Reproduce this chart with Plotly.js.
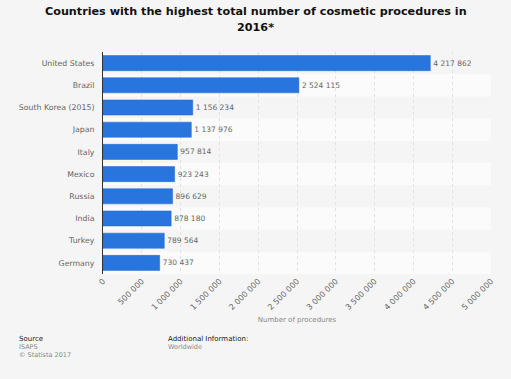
<!DOCTYPE html>
<html><head><meta charset="utf-8">
<script src="https://cdn.plot.ly/plotly-3.0.1.min.js"></script>
<style>html,body{margin:0;padding:0;background:#f5f5f5;}#chart{width:511px;height:379px;}</style>
</head><body><div id="chart"></div>
<script>
const countries = ["United States","Brazil","South Korea (2015)","Japan","Italy","Mexico","Russia","India","Turkey","Germany"];
const procedures = [4217862,2524115,1156234,1137976,957814,923243,896629,878180,789564,730437];
const tickVals = [0,500000,1000000,1500000,2000000,2500000,3000000,3500000,4000000,4500000,5000000];

const shapes = countries.map((c,i)=>({
  type:'rect', xref:'paper', yref:'y', x0:0, x1:1, y0:i-0.5, y1:i+0.5,
  fillcolor: i%2===0 ? '#f5f5f5' : '#fbfbfb', line:{width:0}, layer:'below'
}));

const trace = {
  type:'bar', orientation:'h', x:procedures, y:countries,
  marker:{color:'#2876dd', line:{color:'#1f66c9', width:0.5}},
  texttemplate:'%{x:,}', textposition:'outside', cliponaxis:false,
  textfont:{family:'DejaVu Sans, sans-serif', size:7.5, color:'#666'},
  hoverinfo:'none'
};

const pxX = x => (x-103)/388;
const pxY = y => (274-y)/222;

const footer = [
  {text:'Source', x:17, y:339, head:true},
  {text:'ISAPS', x:17, y:347},
  {text:'© Statista 2017', x:17, y:355},
  {text:'Additional Information:', x:166, y:339, head:true},
  {text:'Worldwide', x:166, y:347}
];

const annotations = footer.map(a=>({text:a.text, xref:'paper', yref:'paper', showarrow:false,
  x:pxX(a.x), y:pxY(a.y), xanchor:'left', yanchor:'middle',
  font:{family:'DejaVu Sans, sans-serif', size:a.head?7:6.5, color:a.head?'#222':'#888'}}));

annotations.push({text:'Countries with the highest total number of cosmetic procedures in',
  xref:'paper', yref:'paper', showarrow:false, x:pxX(255.5), y:pxY(11), xanchor:'center', yanchor:'middle',
  font:{family:'DejaVu Sans, sans-serif', size:11.2, color:'#111', weight:'bold'}});
annotations.push({text:'2016*',
  xref:'paper', yref:'paper', showarrow:false, x:pxX(255.5), y:pxY(27), xanchor:'center', yanchor:'middle',
  font:{family:'DejaVu Sans, sans-serif', size:11.2, color:'#111', weight:'bold'}});

const layout = {
  width:511, height:379,
  paper_bgcolor:'#f5f5f5', plot_bgcolor:'#fafafa',
  separators:'. ',
  margin:{l:103, r:20, t:52, b:105},
  bargap:0.32,
  showlegend:false,
  shapes: shapes,
  xaxis:{range:[0,5000000], tickvals:tickVals, tickformat:',', tickangle:-45,
    tickfont:{family:'DejaVu Sans, sans-serif', size:8, color:'#666'},
    showgrid:true, gridcolor:'#e2e2e2', griddash:'dot', gridwidth:1, zeroline:false,
    showline:false, ticks:'',
    title:{text:'Number of procedures', font:{family:'DejaVu Sans, sans-serif', size:7, color:'#888'}, standoff:6}},
  yaxis:{autorange:'reversed', tickfont:{family:'DejaVu Sans, sans-serif', size:7.8, color:'#666'},
    showline:true, linecolor:'#333', linewidth:1, ticks:'', ticklen:0, showgrid:false,
    ticklabelstandoff:6},
  annotations: annotations
};

Plotly.newPlot('chart',[trace],layout,{staticPlot:true, displayModeBar:false});
</script></body></html>
